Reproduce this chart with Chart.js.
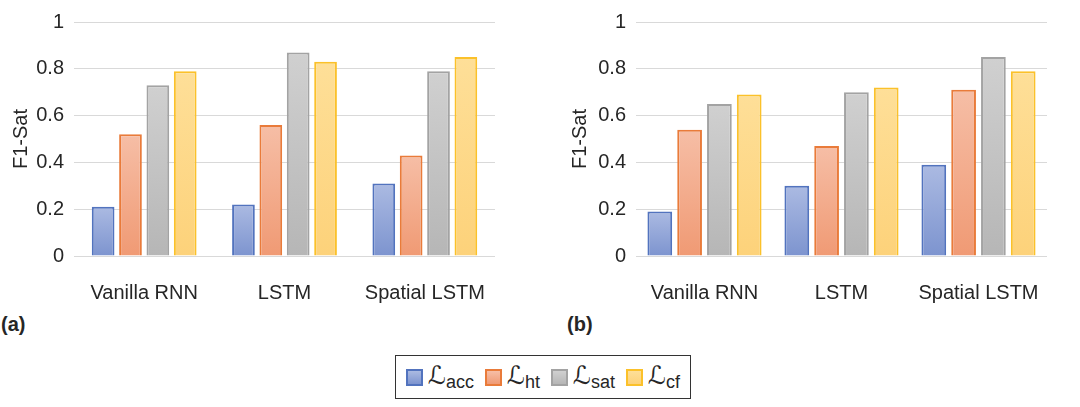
<!DOCTYPE html>
<html>
<head>
<meta charset="utf-8">
<script src="https://cdn.jsdelivr.net/npm/chart.js@4/dist/chart.umd.min.js"></script>
<style>
  body { margin: 0; background: #fff; font-family: "Liberation Sans", Arial, sans-serif; color: #262626; }
  #wrap { position: relative; width: 1080px; height: 407px; overflow: hidden; }
  .panel { position: absolute; top: 0; height: 310px; }
  .tag { position: absolute; font-weight: bold; font-size: 20px; }
  #legend { position: absolute; left: 395px; top: 355px; width: 296px; height: 44px; border: 1px solid #333;
            box-sizing: border-box; display: flex; align-items: center; justify-content: center; gap: 11px; }
  .item { display: flex; align-items: center; }
  .sw { width: 13px; height: 13px; border: 2px solid; margin-right: 5px; }
  .lab { font-family: "DejaVu Sans", serif; font-size: 25px; font-style: italic; line-height: 1; }
  .lab sub { font-family: "Liberation Sans", Arial, sans-serif; font-style: normal; font-size: 18px; vertical-align: -4px; }
</style>
</head>
<body>
<div id="wrap">
  <div class="panel" style="left:0;width:520px"><canvas id="chartA"></canvas></div>
  <div class="panel" style="left:540px;width:540px"><canvas id="chartB"></canvas></div>
  <div class="tag" style="left:1px;top:313px">(a)</div>
  <div class="tag" style="left:567px;top:313px">(b)</div>
  <div id="legend"></div>
</div>
<script>
var categories = ['Vanilla RNN', 'LSTM', 'Spatial LSTM'];
var seriesNames = ['acc', 'ht', 'sat', 'cf'];
var yTicks = [0, 0.2, 0.4, 0.6, 0.8, 1];

// panel (a)
var accA = [0.21, 0.22, 0.31];
var htA = [0.52, 0.56, 0.43];
var satA = [0.73, 0.87, 0.79];
var cfA = [0.79, 0.83, 0.85];

// panel (b)
var accB = [0.19, 0.30, 0.39];
var htB = [0.54, 0.47, 0.71];
var satB = [0.65, 0.70, 0.85];
var cfB = [0.69, 0.72, 0.79];

var borders = ['#5273be', '#e97b3a', '#a3a3a3', '#fbc12a'];
var tops = ['#abbae2', '#f6bea6', '#d0d0d0', '#fedf98'];
var bottoms = ['#7d94cf', '#f09a74', '#b6b6b6', '#fdd27a'];

function gradFill(i) {
    return function (ctx) {
        var chart = ctx.chart;
        var y = chart.scales.y;
        if (!y || ctx.parsed === undefined || !chart.chartArea) return tops[i];
        var top = y.getPixelForValue(ctx.parsed.y);
        var base = y.getPixelForValue(0);
        var g = chart.ctx.createLinearGradient(0, top, 0, base);
        g.addColorStop(0, tops[i]);
        g.addColorStop(1, bottoms[i]);
        return g;
    };
}

function makeChart(id, series, axisW, catPct, padRight, titlePad) {
    var datasets = series.map(function (vals, i) {
        return {
            label: seriesNames[i],
            data: vals,
            backgroundColor: gradFill(i),
            borderColor: borders[i],
            borderWidth: 2,
            borderSkipped: 'bottom',
            categoryPercentage: catPct,
            barPercentage: 0.83,
        };
    });
    return new Chart(document.getElementById(id), {
        type: 'bar',
        data: { labels: categories, datasets: datasets },
        options: {
            responsive: true,
            maintainAspectRatio: false,
            animation: false,
            layout: { padding: { top: 19, right: padRight, left: 0, bottom: 0 } },
            plugins: { legend: { display: false }, tooltip: { enabled: false } },
            scales: {
                x: {
                    grid: { display: false },
                    border: { display: false },
                    ticks: { color: '#262626', font: { size: 20, family: 'Liberation Sans' }, padding: 17, maxRotation: 0 },
                    afterFit: function (axis) { axis.height = 54; },
                },
                y: {
                    min: 0,
                    max: 1,
                    afterBuildTicks: function (axis) { axis.ticks = yTicks.map(function (v) { return { value: v }; }); },
                    grid: { color: '#d9d9d9', lineWidth: 1, drawTicks: false },
                    border: { display: false },
                    ticks: {
                        color: '#262626', font: { size: 20, family: 'Liberation Sans' }, padding: 10,
                        callback: function (v) { return String(+v.toFixed(1)); }
                    },
                    title: { display: true, text: 'F1-Sat', color: '#262626', font: { size: 20, family: 'Liberation Sans' }, padding: { top: titlePad, bottom: 0 } },
                    afterFit: function (axis) { axis.width = axisW; },
                }
            }
        }
    });
}

var chartA = makeChart('chartA', [accA, htA, satA, cfA], 74, 0.78, 25, 9);
var chartB = makeChart('chartB', [accB, htB, satB, cfB], 96, 0.87, 33, 28);

// legend built from the series
var legend = document.getElementById('legend');
seriesNames.forEach(function (name, i) {
    var item = document.createElement('div');
    item.className = 'item';
    item.innerHTML = '<span class="sw" style="border-color:' + borders[i] + ';background:linear-gradient(' + tops[i] + ',' + bottoms[i] + ')"></span>' +
        '<span class="lab">\u2112<sub>' + name + '</sub></span>';
    legend.appendChild(item);
});
</script>
</body>
</html>
